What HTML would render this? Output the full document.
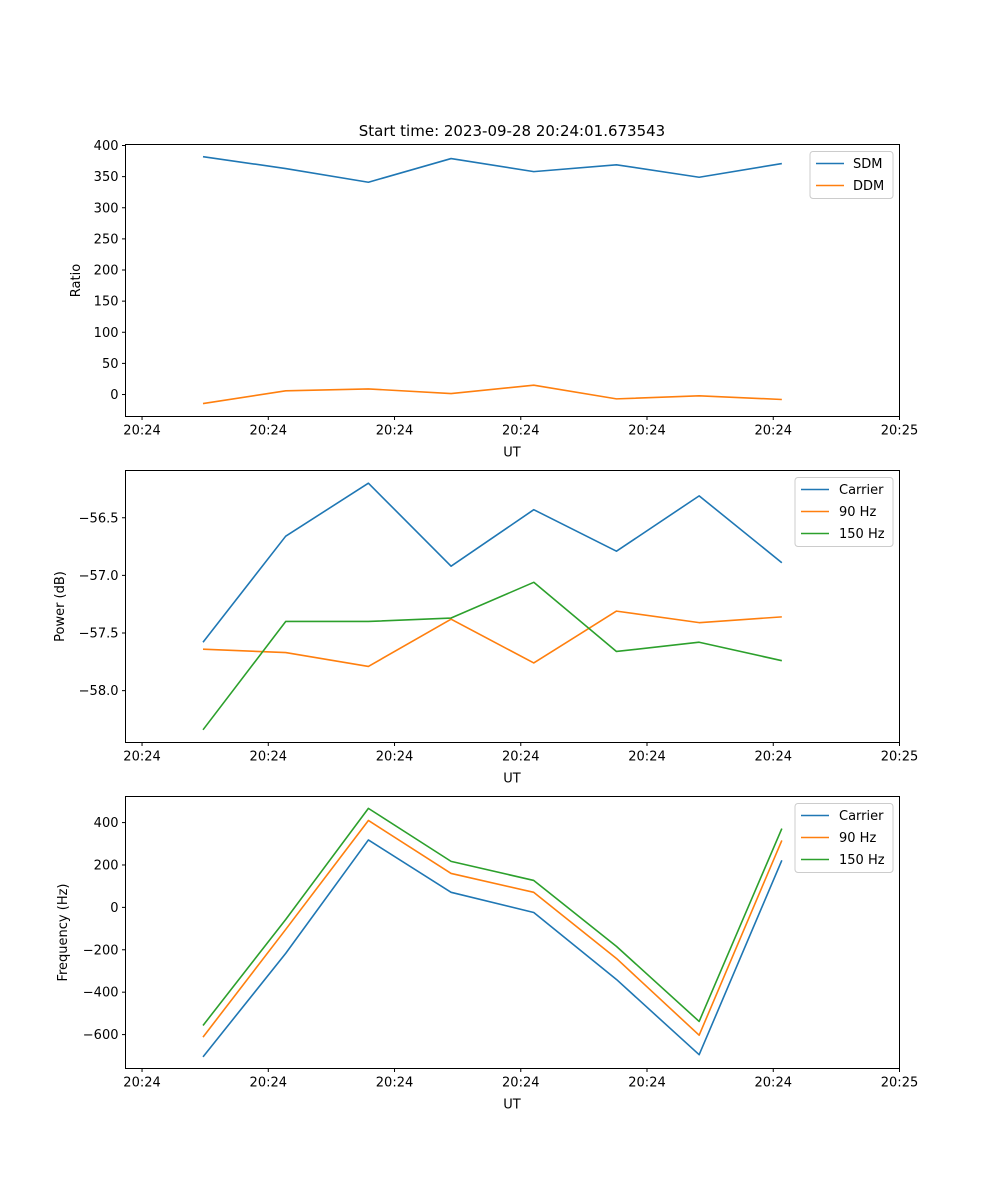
<!DOCTYPE html>
<html><head><meta charset="utf-8"><style>
html,body{margin:0;padding:0;background:#fff;}
svg{display:block;font-family:"DejaVu Sans","Liberation Sans",sans-serif;}
</style></head><body>
<svg id="fig" width="1000" height="1200" xmlns="http://www.w3.org/2000/svg">
<text x="512" y="136" font-size="15" text-anchor="middle">Start time: 2023-09-28 20:24:01.673543</text>
</svg>
<script>
// x: seconds after 20:24:00
const xTickLabels = ["20:24","20:24","20:24","20:24","20:24","20:24","20:25"];
const xTickValues = [0,10,20,30,40,50,60];
const times = [4.83,11.38,17.93,24.48,31.03,37.58,44.13,50.68];
const sdm = [382,363,341,379,358,369,349,371];
const ddm = [-14.5,6,9,1.5,15,-7,-2,-8];
const pwrCarrier = [-57.58,-56.66,-56.20,-56.92,-56.43,-56.79,-56.31,-56.89];
const pwr90 = [-57.64,-57.67,-57.79,-57.38,-57.76,-57.31,-57.41,-57.36];
const pwr150 = [-58.34,-57.40,-57.40,-57.37,-57.06,-57.66,-57.58,-57.74];
const frqCarrier = [-705,-217,318,71,-24,-340,-695,222];
const frq90 = [-612,-104,410,160,71,-241,-603,316];
const frq150 = [-557,-57,467,217,127,-184,-538,372];
const ticks1 = [0,50,100,150,200,250,300,350,400];
const ticks2 = [-58.0,-57.5,-57.0,-56.5];
const ticks3 = [-600,-400,-200,0,200,400];

const NS="http://www.w3.org/2000/svg";
const svg=document.getElementById('fig');
const L=125.5,R=899.5,X0=-1.31,X1=60.0;
function sx(t){return L+(t-X0)/(X1-X0)*(R-L);}
function mk(tag,attrs,parent){const e=document.createElementNS(NS,tag);for(const k in attrs)e.setAttribute(k,attrs[k]);(parent||svg).appendChild(e);return e;}

function panel(pname,top,bot,ymin,ymax,yTicks,yFmt,ylabel,ylabX,series,legend){
  const g=mk('g',{});
  
  
  const sy=v=>bot-(v-ymin)/(ymax-ymin)*(bot-top);
  series.forEach(s=>{
    const pts=s.vals.map((v,i)=>sx(times[i]).toFixed(2)+','+sy(v).toFixed(2)).join(' ');
    const p=mk('polyline',{points:pts,fill:'none',stroke:s.color,'stroke-width':1.6,'stroke-linejoin':'round'},g);
    
    
  });
  const fr=mk('rect',{x:L,y:top,width:R-L,height:bot-top,fill:'none',stroke:'#000','stroke-width':1},g);
  
  
  xTickValues.forEach((tv,i)=>{
    const x=sx(tv);
    mk('line',{x1:x,x2:x,y1:bot,y2:bot+3.5,stroke:'#000'},g);
    const t=mk('text',{x:x,y:bot+18,'font-size':13,'text-anchor':'middle'},g);
    t.textContent=xTickLabels[i];
    
    
  });
  const xl=mk('text',{x:512,y:bot+40,'font-size':13,'text-anchor':'middle'},g);
  xl.textContent='UT';
  
  
  yTicks.forEach(v=>{
    const y=sy(v);
    mk('line',{x1:L-3.5,x2:L,y1:y,y2:y,stroke:'#000'},g);
    const t=mk('text',{x:L-7,y:y+4.5,'font-size':13,'text-anchor':'end'},g);
    t.textContent=yFmt(v);
    
    
  });
  const cy=(top+bot)/2;
  const yl=mk('text',{x:ylabX,y:cy,'font-size':13,'text-anchor':'middle',transform:`rotate(-90 ${ylabX} ${cy})`},g);
  yl.textContent=ylabel;
  
  
  const lg=mk('g',{},g);
  
  
  mk('rect',{x:legend.x,y:top+7,width:legend.w,height:series.length*22+3,rx:3,fill:'#fff','fill-opacity':0.8,stroke:'#ccc'},lg);
  series.forEach((s,i)=>{
    const y=top+19+i*22;
    mk('line',{x1:legend.x+6,x2:legend.x+34,y1:y,y2:y,stroke:s.color,'stroke-width':1.6},lg);
    const t=mk('text',{x:legend.tx,y:y+4.5,'font-size':13},lg);
    t.textContent=s.label;
    
    
  });
}
const B='#1f77b4',O='#ff7f0e',G='#2ca02c';
panel('ratio-panel',144.5,416.5,-35.3,401.6,ticks1,v=>String(v),'Ratio',80,
  [{name:'sdm',label:'SDM',vals:sdm,color:B},{name:'ddm',label:'DDM',vals:ddm,color:O}],{x:810,w:83,tx:853});
panel('power-panel',470.5,742.5,-58.45,-56.09,ticks2,v=>'\u2212'+Math.abs(v).toFixed(1),'Power (dB)',64,
  [{name:'carrier-power',label:'Carrier',vals:pwrCarrier,color:B},{name:'90hz-power',label:'90 Hz',vals:pwr90,color:O},{name:'150hz-power',label:'150 Hz',vals:pwr150,color:G}],{x:795,w:98,tx:839});
panel('frequency-panel',796.5,1068.5,-760,523,ticks3,v=>v<0?'\u2212'+Math.abs(v):String(v),'Frequency (Hz)',67,
  [{name:'carrier-frequency',label:'Carrier',vals:frqCarrier,color:B},{name:'90hz-frequency',label:'90 Hz',vals:frq90,color:O},{name:'150hz-frequency',label:'150 Hz',vals:frq150,color:G}],{x:795,w:98,tx:839});
</script>
</body></html>
